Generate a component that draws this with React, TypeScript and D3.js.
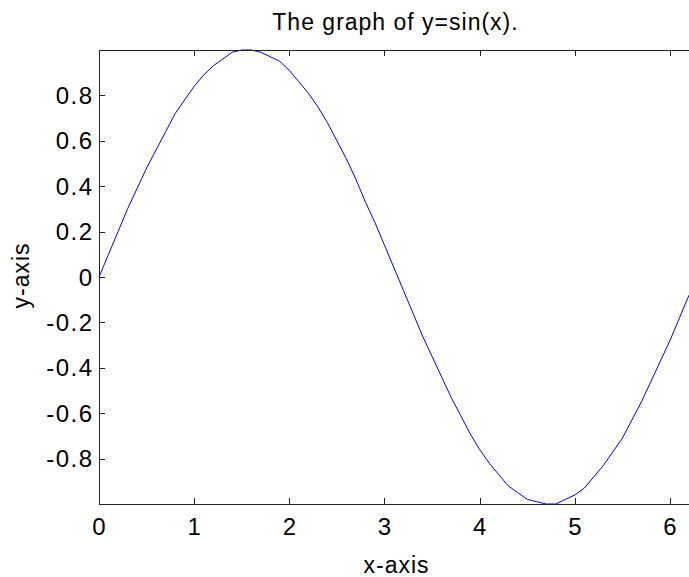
import React from 'react';
import * as d3 from 'd3';

const xValues = [
  0, 0.1, 0.2, 0.3, 0.4, 0.5, 0.6, 0.7, 0.8, 0.9, 1.0, 1.1, 1.2, 1.3, 1.4, 1.5,
  1.6, 1.7, 1.8, 1.9, 2.0, 2.1, 2.2, 2.3, 2.4, 2.5, 2.6, 2.7, 2.8, 2.9, 3.0, 3.1,
  3.2, 3.3, 3.4, 3.5, 3.6, 3.7, 3.8, 3.9, 4.0, 4.1, 4.2, 4.3, 4.4, 4.5, 4.6, 4.7,
  4.8, 4.9, 5.0, 5.1, 5.2, 5.3, 5.4, 5.5, 5.6, 5.7, 5.8, 5.9, 6.0, 6.1, 6.2,
];
const yValues = [
  0, 0.1, 0.2, 0.3, 0.39, 0.48, 0.56, 0.64, 0.72, 0.78, 0.84, 0.89, 0.93, 0.96,
  0.99, 1.0, 1.0, 0.99, 0.97, 0.95, 0.91, 0.86, 0.81, 0.75, 0.68, 0.6, 0.52,
  0.43, 0.33, 0.24, 0.14, 0.04, -0.06, -0.16, -0.26, -0.35, -0.44, -0.53, -0.61,
  -0.69, -0.76, -0.82, -0.87, -0.92, -0.95, -0.98, -0.99, -1.0, -1.0, -0.98,
  -0.96, -0.93, -0.88, -0.83, -0.77, -0.71, -0.63, -0.55, -0.46, -0.37, -0.28,
  -0.18, -0.08,
];
const xTicks = [0, 1, 2, 3, 4, 5, 6];
const yTicks = [-0.8, -0.6, -0.4, -0.2, 0, 0.2, 0.4, 0.6, 0.8];
const yTickLabels = ['-0.8', '-0.6', '-0.4', '-0.2', '0', '0.2', '0.4', '0.6', '0.8'];

const W = 689;
const H = 577;
const FONT = '"Liberation Sans", Arial, Helvetica, sans-serif';

export default function App() {
  const left = 99, right = 689, top = 50, bottom = 504;
  const x = d3.scaleLinear().domain([0, 6.2]).range([left, right]);
  const y = d3.scaleLinear().domain([-1, 1]).range([bottom, top]);

  const pts = xValues.map((v, i) => [v, yValues[i]] as [number, number]);
  const line = d3
    .line<[number, number]>()
    .x(d => x(d[0]))
    .y(d => y(d[1]));

  const tickLen = 6;
  const txt = {fontFamily: FONT, fill: '#000'};

  return (
    <div style={{position: 'absolute', left: 0, top: 0}}>
      <svg width={W} height={H} style={{display: 'block', background: '#fff'}}>
        {/* curve */}
        <path d={line(pts) || ''} fill="none" stroke="#0000ff" strokeWidth={1} />

        {/* box */}
        <line x1={left} x2={right + 2} y1={top + 0.5} y2={top + 0.5} stroke="#222" />
        <line x1={left} x2={right + 2} y1={bottom + 0.5} y2={bottom + 0.5} stroke="#222" />
        <line x1={left + 0.5} x2={left + 0.5} y1={top} y2={bottom} stroke="#222" />

        {/* x ticks, inward on bottom and top */}
        {xTicks.map(t => (
          <g key={'x' + t}>
            <line x1={Math.round(x(t)) + 0.5} x2={Math.round(x(t)) + 0.5} y1={bottom} y2={bottom - tickLen} stroke="#222" />
            <line x1={Math.round(x(t)) + 0.5} x2={Math.round(x(t)) + 0.5} y1={top} y2={top + tickLen} stroke="#222" />
            <text x={x(t) + 0.75} y={535} textAnchor="middle" fontSize={24} letterSpacing={1.5} {...txt}>
              {String(t)}
            </text>
          </g>
        ))}

        {/* y ticks */}
        {yTicks.map((t, i) => (
          <g key={'y' + t}>
            <line x1={left} x2={left + tickLen} y1={Math.round(y(t)) + 0.5} y2={Math.round(y(t)) + 0.5} stroke="#222" />
            <text x={93.5} y={y(t) + 8.5} textAnchor="end" fontSize={24} letterSpacing={1.5} {...txt}>
              {yTickLabels[i]}
            </text>
          </g>
        ))}

        <text x={395.5} y={29.5} textAnchor="middle" fontSize={23} letterSpacing={1} {...txt}>
          The graph of y=sin(x).
        </text>
        <text x={396.5} y={573} textAnchor="middle" fontSize={23} letterSpacing={1} {...txt}>
          x-axis
        </text>
        <text
          transform={`translate(29,${275.5}) rotate(-90)`}
          textAnchor="middle"
          fontSize={23}
          letterSpacing={1}
          {...txt}
        >
          y-axis
        </text>
      </svg>
    </div>
  );
}
